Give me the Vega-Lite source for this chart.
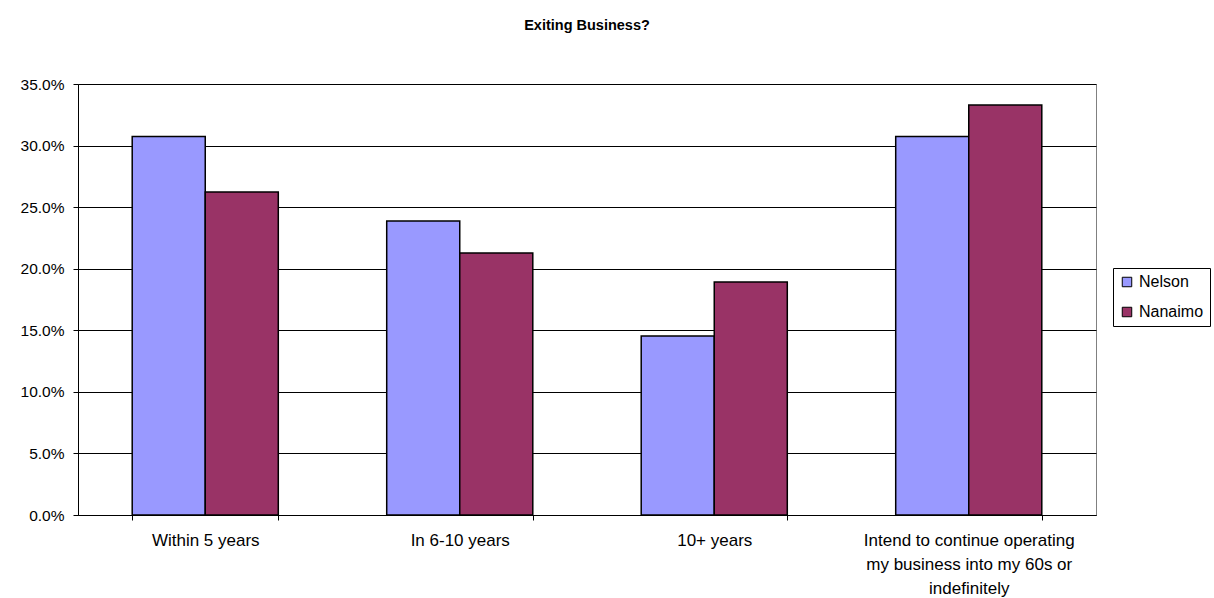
{
  "$schema": "https://vega.github.io/schema/vega-lite/v6.json",
  "width": 1018,
  "height": 431,
  "autosize": {"type": "none"},
  "padding": {"left": 78, "top": 84, "right": 118, "bottom": 83},
  "background": "white",
  "title": {"text": "Exiting Business?", "font": "Liberation Sans", "fontSize": 14.5, "fontWeight": "bold", "color": "#000", "offset": 44, "anchor": "middle"},
  "config": {
    "view": {"stroke": "#808080", "strokeWidth": 1}
  },
  "data": {"values": [
    {"category": "Within 5 years", "city": "Nelson", "value": 0.3074},
    {"category": "Within 5 years", "city": "Nanaimo", "value": 0.2623},
    {"category": "In 6-10 years", "city": "Nelson", "value": 0.2387},
    {"category": "In 6-10 years", "city": "Nanaimo", "value": 0.2128},
    {"category": "10+ years", "city": "Nelson", "value": 0.1454},
    {"category": "10+ years", "city": "Nanaimo", "value": 0.1892},
    {"category": "Intend to continue operating my business into my 60s or indefinitely", "city": "Nelson", "value": 0.3074},
    {"category": "Intend to continue operating my business into my 60s or indefinitely", "city": "Nanaimo", "value": 0.3329}
  ]},
  "mark": {"type": "bar", "stroke": "#000", "strokeWidth": 1.5},
  "encoding": {
    "x": {
      "field": "category", "type": "nominal", "sort": null,
      "scale": {"paddingInner": 0.426, "paddingOuter": 0.213},
      "axis": {
        "title": null, "labelAngle": 0, "tickBand": "extent", "tickSize": 5, "labelPadding": 12,
        "labelFont": "Liberation Sans", "labelFontSize": 17, "labelColor": "#000", "domainColor": "#000", "tickColor": "#000",
        "labelLineHeight": 24, "labelLimit": 400,
        "labelExpr": "datum.label == 'Intend to continue operating my business into my 60s or indefinitely' ? ['Intend to continue operating', 'my business into my 60s or', 'indefinitely'] : datum.label"
      }
    },
    "xOffset": {"field": "city", "type": "nominal", "sort": ["Nelson", "Nanaimo"], "scale": {"paddingInner": 0, "paddingOuter": 0}},
    "y": {
      "field": "value", "type": "quantitative",
      "scale": {"domain": [0, 0.35]},
      "axis": {"title": null, "format": ".1%", "values": [0, 0.05, 0.1, 0.15, 0.2, 0.25, 0.3, 0.35], "labelOverlap": false,
        "labelFont": "Liberation Sans", "labelFontSize": 15.5, "labelColor": "#000", "domainColor": "#000", "tickColor": "#000",
        "gridColor": "#000", "gridOpacity": 1, "tickSize": 5, "labelPadding": 9}
    },
    "color": {
      "field": "city", "type": "nominal", "sort": ["Nelson", "Nanaimo"],
      "scale": {"domain": ["Nelson", "Nanaimo"], "range": ["#9999FF", "#993366"]},
      "legend": {
        "title": null, "orient": "none", "legendX": 1035, "legendY": 184,
        "symbolType": "square", "symbolSize": 90, "symbolStrokeColor": "#000", "symbolStrokeWidth": 1,
        "labelFont": "Liberation Sans", "labelFontSize": 16, "labelColor": "#000",
        "strokeColor": "#000", "padding": 6, "rowPadding": 14, "labelOffset": 4
      }
    }
  }
}
